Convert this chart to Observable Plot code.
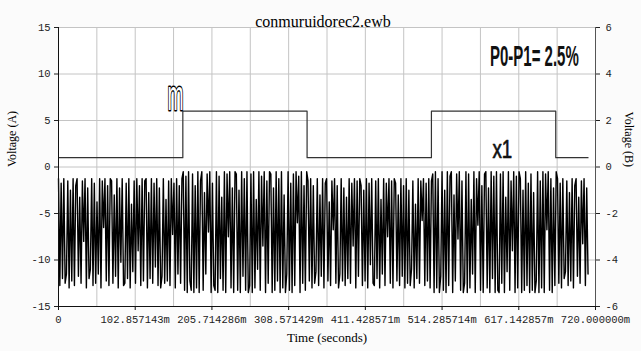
<!DOCTYPE html>
<html><head><meta charset="utf-8">
<script src="https://cdn.jsdelivr.net/npm/d3@7"></script>
<script src="https://cdn.jsdelivr.net/npm/@observablehq/plot@0.6"></script>
<style>body{margin:0;background:#fff}</style>
</head><body><div id="chart"></div>
<script>
const title = "conmuruidorec2.ewb";
const xLabel = "Time (seconds)";
const yLeftLabel = "Voltage (A)";
const yRightLabel = "Voltage (B)";
const xTickValues = [0, 102.857143, 205.714286, 308.571429, 411.428571, 514.285714, 617.142857, 720];
const xTickLabels = ["0", "102.857143m", "205.714286m", "308.571429m", "411.428571m", "514.285714m", "617.142857m", "720.000000m"];
const leftTicks = [-15, -10, -5, 0, 5, 10, 15];
const rightTickLabels = ["-6", "-4", "-2", "0", "2", "4", "6"];
const bPerA = 2.5; // right axis (B) to left axis (A) scale

// trace m (left axis, A): time in ms
const mTime = [0, 166.7, 166.7, 333.3, 333.3, 500, 500, 666.7, 666.7, 710];
const mVolt = [1, 1, 6, 6, 1, 1, 6, 6, 1, 1];

// trace x1 (right axis, B): evenly sampled from 0 to x1End ms
const x1End = 710;
const x1Volt = [
 -0.5,-5.1,-0.7,-4.8,-0.5,-5.0,-4.6,-0.6,-5.2,-1.0,-4.9,-0.5,-5.1,-0.8,-0.5,-4.7,-1.3,-5.0,-0.6,-3.2,
 -0.5,-5.2,-0.9,-4.8,-4.4,-0.5,-5.1,-0.7,-5.0,-1.5,-4.6,-0.5,-5.2,-0.6,-2.6,-0.5,-4.9,-0.8,-5.1,-0.5,
 -0.6,-5.0,-1.2,-4.7,-0.5,-5.2,-0.9,-4.1,-0.5,-5.1,-5.0,-0.7,-4.8,-0.5,-5.2,-1.6,-4.5,-0.6,-5.0,-0.5,
 -3.6,-0.8,-5.1,-0.5,-4.9,-0.6,-0.5,-5.2,-1.1,-4.8,-0.5,-5.0,-0.7,-4.3,-0.5,-5.1,-0.9,-5.2,-4.7,-0.5,
 -5.0,-1.4,-4.9,-0.6,-5.1,-0.5,-2.9,-0.7,-5.2,-0.5,-4.6,-0.8,-5.0,-0.5,
 -0.2,-5.3,-0.4,-5.4,-0.2,-4.9,-5.3,-0.3,-5.4,-0.8,-5.2,-0.2,-5.4,-0.6,-0.2,-5.3,-1.1,-4.6,-0.3,-2.8,
 -0.2,-5.4,-0.7,-5.1,-5.3,-0.2,-5.4,-0.4,-4.8,-1.3,-5.3,-0.2,-5.4,-0.3,-3.0,-0.2,-5.2,-0.9,-5.4,-0.2,
 -0.3,-5.3,-1.0,-5.4,-0.2,-4.7,-0.5,-5.3,-0.2,-5.4,-5.1,-0.3,-5.4,-0.2,-5.2,-1.4,-4.4,-0.2,-5.3,-0.4,
 -3.4,-0.2,-5.4,-0.6,-5.0,-0.2,-0.3,-5.4,-0.9,-5.3,-0.2,-4.9,-0.5,-5.4,-0.2,-5.2,-1.2,-5.4,-4.6,-0.2,
 -5.3,-0.7,-5.4,-0.3,-5.1,-0.2,-2.4,-0.4,-5.4,-0.2,-5.0,-0.8,-5.3,-0.2,
 -0.6,-4.9,-0.5,-5.2,-0.8,-5.0,-4.5,-0.5,-5.1,-1.2,-4.7,-0.5,-5.2,-0.7,-0.5,-4.9,-1.5,-5.1,-0.6,-2.7,
 -0.5,-5.0,-0.8,-5.2,-4.6,-0.5,-4.9,-0.9,-5.1,-1.3,-4.8,-0.5,-5.0,-0.7,-3.4,-0.5,-5.2,-0.6,-4.7,-0.5,
 -0.8,-5.1,-1.0,-4.9,-0.5,-5.2,-0.7,-4.2,-0.5,-5.0,-5.1,-0.6,-4.8,-0.5,-5.2,-1.4,-4.6,-0.5,-5.1,-0.7,
 -3.0,-0.5,-5.0,-0.6,-5.2,-0.5,-0.7,-4.9,-1.2,-5.1,-0.5,-4.7,-0.8,-5.2,-0.5,-5.0,-1.0,-5.1,-4.4,-0.6,
 -5.2,-1.6,-4.8,-0.5,-5.0,-0.6,-2.3,-0.5,-5.1,-0.7,-4.9,-0.5,-5.2,-0.6,
 -0.3,-5.4,-0.2,-5.2,-0.5,-5.4,-4.7,-0.2,-5.3,-1.0,-5.4,-0.2,-5.1,-0.4,-0.2,-5.4,-1.2,-4.9,-0.3,-3.1,
 -0.2,-5.3,-0.6,-5.4,-5.0,-0.2,-5.4,-0.3,-5.2,-1.4,-4.6,-0.2,-5.4,-0.5,-2.5,-0.2,-5.3,-0.8,-5.4,-0.3,
 -0.2,-5.2,-0.9,-5.4,-0.2,-4.8,-0.4,-5.4,-0.2,-5.3,-5.4,-0.3,-5.0,-0.2,-5.4,-1.3,-4.5,-0.2,-5.3,-0.6,
 -3.6,-0.2,-5.4,-0.4,-5.2,-0.2,-0.5,-5.4,-1.0,-5.3,-0.2,-5.1,-0.7,-5.4,-0.3,-5.3,-1.1,-5.4,-4.9,-0.2,
 -5.4,-0.6,-5.2,-0.2,-5.4,-0.3,-2.7,-0.2,-5.3,-0.5,-5.4,-0.9,-5.1,-0.2,
 -0.5,-5.0,-0.7,-5.2,-0.5,-4.8,-4.5,-0.6,-5.1,-1.1,-4.9,-0.5,-5.2,-0.8,-0.5,-4.7,-1.3,-5.0,-0.6,-3.3,
 -0.5,-5.1,-0.9,-4.6
];

// annotations (data coordinates: ms, A)
const annText = ["m", "x1", "P0-P1= 2.5%"];
const annTime = [157, 595, 638];
const annVolt = [7.6, 1.8, 11.9];

const mData = mTime.map((t, i) => ({t, v: mVolt[i]}));
const x1Data = x1Volt.map((v, i) => ({t: i * x1End / (x1Volt.length - 1), v: v * bPerA}));
const annData = annText.map((s, i) => ({s, t: annTime[i], v: annVolt[i]}));

const serif = "Liberation Serif";
const mono = "Liberation Mono";
const sans = "Liberation Sans";

const plot = Plot.plot({
  width: 641, height: 351,
  marginLeft: 58, marginRight: 46, marginTop: 27, marginBottom: 45,
  style: {background: "#fbfbfb", fontFamily: mono, fontSize: "10.5px", color: "#222"},
  x: {domain: [0, 720]},
  y: {domain: [-15, 15]},
  marks: [
    Plot.frame({fill: "#fff", stroke: null}),
    Plot.gridX(d3.range(1, 14).map(i => i * 720 / 14), {stroke: "#c4c4c4", strokeOpacity: 1}),
    Plot.gridY(leftTicks, {stroke: "#c4c4c4", strokeOpacity: 1}),
    Plot.line(x1Data, {x: "t", y: "v", stroke: "#000", strokeWidth: 1.4}),
    Plot.line(mData, {x: "t", y: "v", stroke: "#333", strokeWidth: 1.2}),
    Plot.ruleX([0], {stroke: "#111"}),
    Plot.ruleX([720], {stroke: "#555"}),
    Plot.ruleY([-15], {stroke: "#111"}),
    Plot.axisX(xTickValues, {tickFormat: d => xTickLabels[xTickValues.indexOf(d)], tickSize: 4, tickPadding: 5, label: null, stroke: "#111"}),
    Plot.axisY(leftTicks, {anchor: "left", tickSize: 4, tickPadding: 4, label: null, tickFormat: d => String(d).replace("\u2212", "-")}),
    Plot.axisY(leftTicks, {anchor: "right", tickSize: 4, tickPadding: 6, label: null, tickFormat: d => rightTickLabels[leftTicks.indexOf(d)]}),
    Plot.text([title], {text: d => d, frameAnchor: "top", dy: -12, dx: -4, fontSize: 16, fill: "#000"}),
    Plot.text([xLabel], {text: d => d, frameAnchor: "bottom", dy: 35, fontSize: 13, fill: "#000"}),
    Plot.text([yLeftLabel], {text: d => d, frameAnchor: "left", dx: -46, rotate: -90, fontSize: 12, fill: "#000"}),
    Plot.text([yRightLabel], {text: d => d, frameAnchor: "right", dx: 33, rotate: 90, fontSize: 12, fill: "#000"}),
    Plot.text(annData.slice(0, 1), {x: "t", y: "v", text: "s", fontSize: 42, fill: "#fff", stroke: "#000", strokeWidth: 3}),
    Plot.text(annData.slice(1, 2), {x: "t", y: "v", text: "s", fontSize: 25, fill: "#111", stroke: "#000", strokeWidth: 0.6}),
    Plot.text(annData.slice(2, 3), {x: "t", y: "v", text: "s", fontWeight: "bold", fontSize: 30, fill: "#111"})
  ]
});

// fonts (inline) and horizontal condensing of annotation lettering
const serifTexts = [title, xLabel, yLeftLabel, yRightLabel];
const squeeze = {"m": 0.46, "x1": 0.75, "P0-P1= 2.5%": 0.5};
d3.select(plot).selectAll("text").each(function() {
  const s = this.textContent;
  if (serifTexts.includes(s)) this.style.fontFamily = "'" + serif + "', serif";
  if (squeeze[s] !== undefined) {
    this.style.fontFamily = "'" + sans + "', sans-serif";
    const tr = this.getAttribute("transform") || "";
    this.setAttribute("transform", tr + ` scale(${squeeze[s]},1)`);
  }
});
document.getElementById("chart").appendChild(plot);
</script>
</body></html>
